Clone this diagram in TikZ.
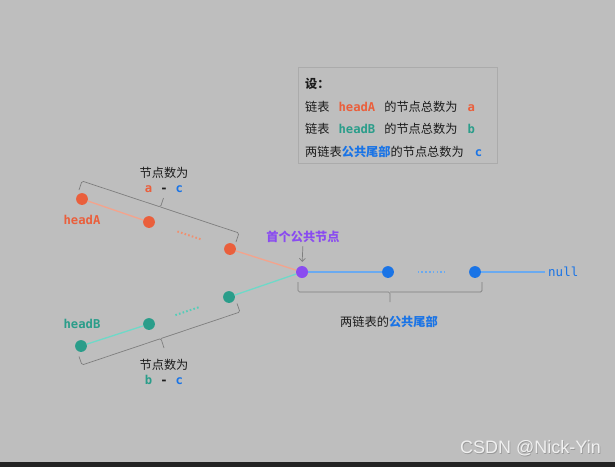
\documentclass[tikz,border=0pt]{standalone}
\usepackage{fontspec}
\setmainfont{Noto Sans CJK SC}
\newfontfamily\cjk{Noto Sans CJK SC}
\newfontfamily\monof{DejaVu Sans Mono}
\newfontfamily\wmfont{Liberation Sans}
\usetikzlibrary{arrows.meta,calc}
\definecolor{bgc}{HTML}{BEBEBE}
\definecolor{barc}{HTML}{232323}
\definecolor{orn}{HTML}{EA5F3C}
\definecolor{ornl}{HTML}{F4A38C}
\definecolor{ornd}{HTML}{F09070}
\definecolor{teal}{HTML}{2A9D8A}
\definecolor{teall}{HTML}{6ED9C8}
\definecolor{teald}{HTML}{55CDB8}
\definecolor{blu}{HTML}{1A74E6}
\definecolor{blul}{HTML}{6AAAF0}
\definecolor{purp}{HTML}{8A4CF0}
\definecolor{txt}{HTML}{1C1C1C}
\definecolor{brc}{HTML}{7E7E7E}
\definecolor{boxc}{HTML}{ABABAB}
\begin{document}
\begin{tikzpicture}[x=1pt,y=-1pt,
  font=\cjk\fontsize{12.2}{14}\selectfont,
  every node/.style={text=txt},
  dot/.style={circle,inner sep=0pt,minimum size=11.8pt,draw=none},
  lab/.style={inner sep=0pt},
  mono/.style={font=\monof\bfseries\fontsize{12.2}{14}\selectfont},
  lnA/.style={draw=ornl,line width=1.3pt},
  lnB/.style={draw=teall,line width=1.3pt},
  lnC/.style={draw=blul,line width=1.3pt},
  dts/.style={line width=2pt,dash pattern=on 1.6pt off 2.2pt},
  bracestyle/.style={draw=brc,line width=0.7pt,rounded corners=1.5pt},
  boxstyle/.style={draw=boxc,line width=0.8pt,inner sep=0pt}]
\fill[bgc] (0,0) rectangle (615,467);
\fill[barc] (0,462) rectangle (615,467);
\useasboundingbox (0,0) rectangle (615,467);

% info box
\node[boxstyle,minimum width=199pt,minimum height=96pt,anchor=north west] (box) at (298,67) {};
\node[lab,anchor=west] (l1) at (305,84) {\bfseries 设：};
\node[lab,anchor=west] (l2) at (305,107) {链表\hspace{9pt}{\monof\bfseries\color{orn}headA}\hspace{9pt}的节点总数为\hspace{10pt}{\monof\bfseries\color{orn}a}};
\node[lab,anchor=west] (l3) at (305,129) {链表\hspace{9pt}{\monof\bfseries\color{teal}headB}\hspace{9pt}的节点总数为\hspace{10pt}{\monof\bfseries\color{teal}b}};
\node[lab,anchor=west] (l4) at (305,152) {两链表{\bfseries\color{blu}公共尾部}的节点总数为\hspace{11pt}{\monof\bfseries\color{blu}c}};

% nodes
\node[dot,fill=orn] (a1) at (82,199) {};
\node[dot,fill=orn] (a2) at (149,222) {};
\node[dot,fill=orn] (a3) at (230,249) {};
\node[dot,fill=teal] (b1) at (81,346) {};
\node[dot,fill=teal] (b2) at (149,324) {};
\node[dot,fill=teal] (b3) at (229,297) {};
\node[dot,fill=purp,minimum size=12pt] (p) at (302,272) {};
\node[dot,fill=blu] (c1) at (388,272) {};
\node[dot,fill=blu] (c2) at (475,272) {};
\coordinate (nl) at (545,272);

% connectors
\draw[lnA] (a1) -- (a2);
\draw[lnA] (a3) -- (p);
\draw[lnB] (b1) -- (b2);
\draw[lnB] (b3) -- (p);
\draw[lnC] (p) -- (c1);
\draw[lnC] (c2) -- (nl);
\draw[dts,draw=ornd] ($(a2)!0.35!(a3)$) -- ($(a2)!0.66!(a3)$);
\draw[dts,draw=teald] ($(b2)!0.33!(b3)$) -- ($(b2)!0.64!(b3)$);
\draw[dts,draw=blul] ($(c1)!0.34!(c2)$) -- ($(c1)!0.66!(c2)$);

% labels
\node[lab,mono,text=orn] (ha) at (82,220) {headA};
\node[lab,mono,text=teal] (hb) at (82,324) {headB};
\node[lab,mono,text=blu,font=\monof\fontsize{12.5}{14}\selectfont,anchor=west] (null) at (548,272) {null};
\node[lab,text=purp,font=\cjk\bfseries\fontsize{12.2}{14}\selectfont] (first) at (303,237) {首个公共节点};
\draw[draw=brc,line width=0.7pt,-{Straight Barb[length=3pt,width=6pt]},shorten <=3pt,shorten >=4pt] (first.south) -- (p.north);

% top brace
\draw[bracestyle] (79,190) -- (82,181) -- (160.5,207) -- (163.5,198) (160.5,207) -- (239,233) -- (236,242);
\node[lab] (tA) at (164,173) {节点数为};
\node[lab] (tA2) at (164,189) {{\monof\bfseries\color{orn}a}\hspace{8pt}{\monof\bfseries\color{txt}-}\hspace{8pt}{\monof\bfseries\color{blu}c}};

% bottom brace
\draw[bracestyle] (79,356.5) -- (82,365) -- (161,338.5) -- (164,348) (161,338.5) -- (240,312) -- (237,303.5);
\node[lab] (tB) at (164,365) {节点数为};
\node[lab] (tB2) at (164,380) {{\monof\bfseries\color{teal}b}\hspace{8pt}{\monof\bfseries\color{txt}-}\hspace{8pt}{\monof\bfseries\color{blu}c}};

% right brace
\draw[bracestyle] (298,282) -- (298,292) -- (390,292) -- (390,302) (390,292) -- (482,292) -- (482,282);
\node[lab] (tC) at (389,322) {两链表的{\bfseries\color{blu}公共尾部}};

% watermark
\node[lab,text=black!40,font=\wmfont\fontsize{18}{20}\selectfont,anchor=east] (wm0) at (601.8,449) {CSDN @Nick-Yin};
\node[lab,text=white!94!black,font=\wmfont\fontsize{18}{20}\selectfont,anchor=east] (wm) at (601,448) {CSDN @Nick-Yin};
\end{tikzpicture}
\end{document}
